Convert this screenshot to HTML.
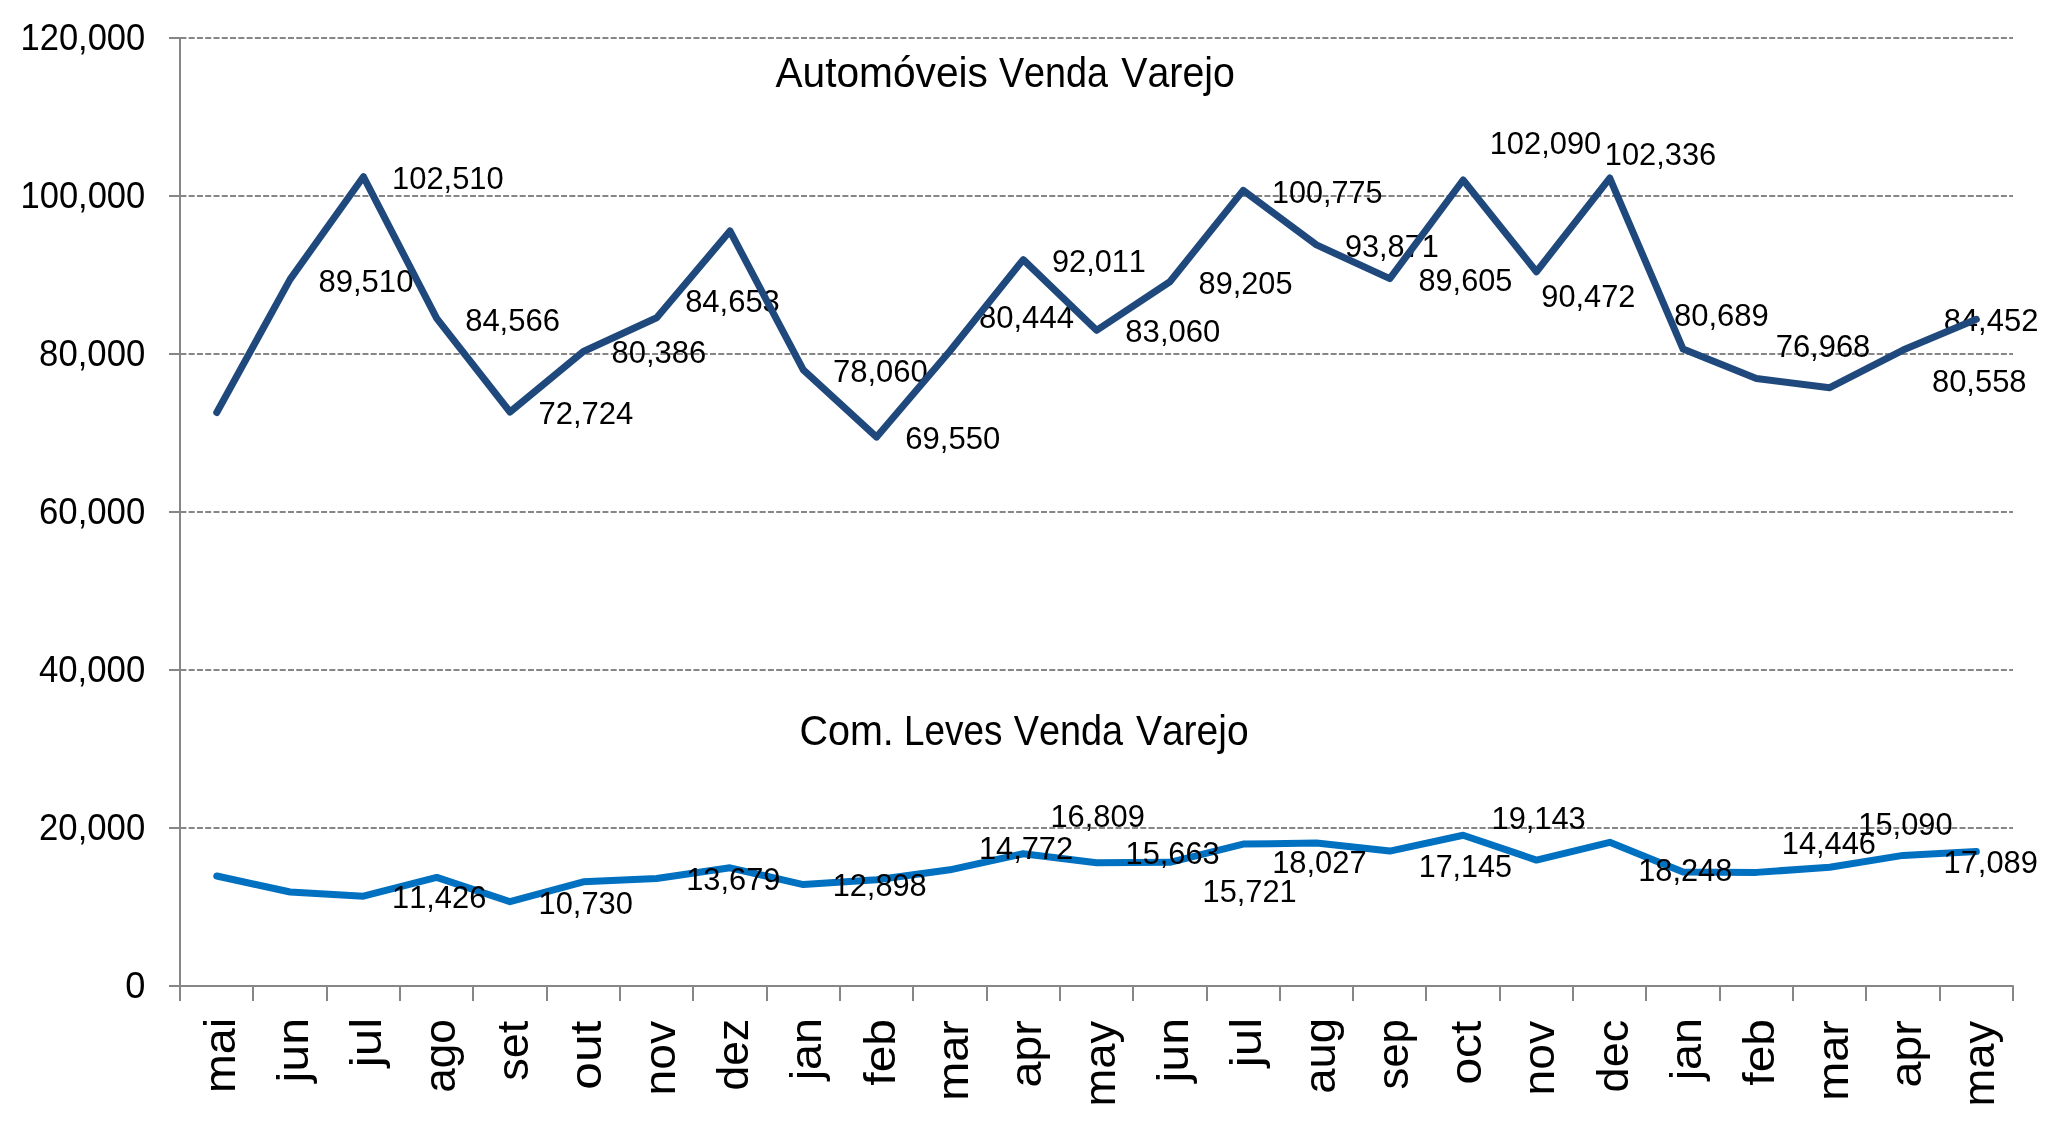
<!DOCTYPE html>
<html><head><meta charset="utf-8"><title>Automóveis Venda Varejo</title>
<style>html,body{margin:0;padding:0;background:#fff;} svg{display:block;will-change:transform;} text{font-kerning:none;}</style>
</head><body>
<svg width="2048" height="1126" viewBox="0 0 2048 1126">
<rect width="2048" height="1126" fill="#ffffff"/>
<line x1="180.4" y1="38" x2="2013" y2="38" stroke="#868686" stroke-width="2" stroke-dasharray="6 2.275"/>
<line x1="180.4" y1="196" x2="2013" y2="196" stroke="#868686" stroke-width="2" stroke-dasharray="6 2.275"/>
<line x1="180.4" y1="354" x2="2013" y2="354" stroke="#868686" stroke-width="2" stroke-dasharray="6 2.275"/>
<line x1="180.4" y1="512" x2="2013" y2="512" stroke="#868686" stroke-width="2" stroke-dasharray="6 2.275"/>
<line x1="180.4" y1="670" x2="2013" y2="670" stroke="#868686" stroke-width="2" stroke-dasharray="6 2.275"/>
<line x1="180.4" y1="828" x2="2013" y2="828" stroke="#868686" stroke-width="2" stroke-dasharray="6 2.275"/>
<line x1="169" y1="38" x2="181" y2="38" stroke="#868686" stroke-width="2"/>
<line x1="169" y1="196" x2="181" y2="196" stroke="#868686" stroke-width="2"/>
<line x1="169" y1="354" x2="181" y2="354" stroke="#868686" stroke-width="2"/>
<line x1="169" y1="512" x2="181" y2="512" stroke="#868686" stroke-width="2"/>
<line x1="169" y1="670" x2="181" y2="670" stroke="#868686" stroke-width="2"/>
<line x1="169" y1="828" x2="181" y2="828" stroke="#868686" stroke-width="2"/>
<line x1="169" y1="986" x2="181" y2="986" stroke="#868686" stroke-width="2"/>
<line x1="180" y1="37" x2="180" y2="1001" stroke="#868686" stroke-width="2"/>
<path d="M179 986 H2013 V1001" fill="none" stroke="#868686" stroke-width="2" stroke-linejoin="round"/>
<line x1="253" y1="986" x2="253" y2="1001" stroke="#868686" stroke-width="2"/>
<line x1="327" y1="986" x2="327" y2="1001" stroke="#868686" stroke-width="2"/>
<line x1="400" y1="986" x2="400" y2="1001" stroke="#868686" stroke-width="2"/>
<line x1="473" y1="986" x2="473" y2="1001" stroke="#868686" stroke-width="2"/>
<line x1="547" y1="986" x2="547" y2="1001" stroke="#868686" stroke-width="2"/>
<line x1="620" y1="986" x2="620" y2="1001" stroke="#868686" stroke-width="2"/>
<line x1="693" y1="986" x2="693" y2="1001" stroke="#868686" stroke-width="2"/>
<line x1="767" y1="986" x2="767" y2="1001" stroke="#868686" stroke-width="2"/>
<line x1="840" y1="986" x2="840" y2="1001" stroke="#868686" stroke-width="2"/>
<line x1="913" y1="986" x2="913" y2="1001" stroke="#868686" stroke-width="2"/>
<line x1="987" y1="986" x2="987" y2="1001" stroke="#868686" stroke-width="2"/>
<line x1="1060" y1="986" x2="1060" y2="1001" stroke="#868686" stroke-width="2"/>
<line x1="1133" y1="986" x2="1133" y2="1001" stroke="#868686" stroke-width="2"/>
<line x1="1207" y1="986" x2="1207" y2="1001" stroke="#868686" stroke-width="2"/>
<line x1="1280" y1="986" x2="1280" y2="1001" stroke="#868686" stroke-width="2"/>
<line x1="1353" y1="986" x2="1353" y2="1001" stroke="#868686" stroke-width="2"/>
<line x1="1426" y1="986" x2="1426" y2="1001" stroke="#868686" stroke-width="2"/>
<line x1="1500" y1="986" x2="1500" y2="1001" stroke="#868686" stroke-width="2"/>
<line x1="1573" y1="986" x2="1573" y2="1001" stroke="#868686" stroke-width="2"/>
<line x1="1646" y1="986" x2="1646" y2="1001" stroke="#868686" stroke-width="2"/>
<line x1="1720" y1="986" x2="1720" y2="1001" stroke="#868686" stroke-width="2"/>
<line x1="1793" y1="986" x2="1793" y2="1001" stroke="#868686" stroke-width="2"/>
<line x1="1866" y1="986" x2="1866" y2="1001" stroke="#868686" stroke-width="2"/>
<line x1="1940" y1="986" x2="1940" y2="1001" stroke="#868686" stroke-width="2"/>
<g style="font-family:'Liberation Sans',sans-serif" fill="#000">
<text x="20.50" y="49.50" font-size="36.3" textLength="124.75" lengthAdjust="spacingAndGlyphs">120,000</text>
<text x="20.50" y="207.50" font-size="36.3" textLength="124.75" lengthAdjust="spacingAndGlyphs">100,000</text>
<text x="39.12" y="365.50" font-size="36.3" textLength="106.14" lengthAdjust="spacingAndGlyphs">80,000</text>
<text x="39.05" y="523.50" font-size="36.3" textLength="106.21" lengthAdjust="spacingAndGlyphs">60,000</text>
<text x="38.95" y="681.50" font-size="36.3" textLength="106.30" lengthAdjust="spacingAndGlyphs">40,000</text>
<text x="39.06" y="839.50" font-size="36.3" textLength="106.19" lengthAdjust="spacingAndGlyphs">20,000</text>
<text x="125.19" y="997.50" font-size="36.3" textLength="20.12" lengthAdjust="spacingAndGlyphs">0</text>
<text x="775.52" y="87.00" font-size="42.3" textLength="212.35" lengthAdjust="spacingAndGlyphs">Automóveis</text>
<text x="998.93" y="87.00" font-size="42.3" textLength="109.17" lengthAdjust="spacingAndGlyphs">Venda</text>
<text x="1121.33" y="87.00" font-size="42.3" textLength="113.52" lengthAdjust="spacingAndGlyphs">Varejo</text>
<text x="799.50" y="745.30" font-size="42.3" textLength="94.31" lengthAdjust="spacingAndGlyphs">Com.</text>
<text x="903.98" y="745.30" font-size="42.3" textLength="98.36" lengthAdjust="spacingAndGlyphs">Leves</text>
<text x="1013.63" y="745.30" font-size="42.3" textLength="109.47" lengthAdjust="spacingAndGlyphs">Venda</text>
<text x="1135.93" y="745.30" font-size="42.3" textLength="112.71" lengthAdjust="spacingAndGlyphs">Varejo</text>
</g>
<g style="font-family:'Liberation Sans',sans-serif" fill="#000">
<text x="392.05" y="189.10" font-size="32.0" textLength="111.62" lengthAdjust="spacingAndGlyphs">102,510</text>
<text x="318.45" y="291.80" font-size="32.0" textLength="94.97" lengthAdjust="spacingAndGlyphs">89,510</text>
<text x="465.15" y="330.50" font-size="32.0" textLength="94.81" lengthAdjust="spacingAndGlyphs">84,566</text>
<text x="538.41" y="424.20" font-size="32.0" textLength="94.96" lengthAdjust="spacingAndGlyphs">72,724</text>
<text x="611.45" y="363.40" font-size="32.0" textLength="94.81" lengthAdjust="spacingAndGlyphs">80,386</text>
<text x="685.15" y="312.30" font-size="32.0" textLength="94.70" lengthAdjust="spacingAndGlyphs">84,653</text>
<text x="832.91" y="381.60" font-size="32.0" textLength="94.94" lengthAdjust="spacingAndGlyphs">78,060</text>
<text x="905.22" y="448.60" font-size="32.0" textLength="95.03" lengthAdjust="spacingAndGlyphs">69,550</text>
<text x="978.95" y="327.60" font-size="32.0" textLength="94.98" lengthAdjust="spacingAndGlyphs">80,444</text>
<text x="1052.06" y="272.20" font-size="32.0" textLength="93.88" lengthAdjust="spacingAndGlyphs">92,011</text>
<text x="1125.35" y="342.20" font-size="32.0" textLength="94.97" lengthAdjust="spacingAndGlyphs">83,060</text>
<text x="1198.57" y="293.70" font-size="32.0" textLength="93.90" lengthAdjust="spacingAndGlyphs">89,205</text>
<text x="1272.07" y="203.00" font-size="32.0" textLength="110.54" lengthAdjust="spacingAndGlyphs">100,775</text>
<text x="1344.96" y="257.30" font-size="32.0" textLength="93.88" lengthAdjust="spacingAndGlyphs">93,871</text>
<text x="1418.47" y="290.70" font-size="32.0" textLength="93.90" lengthAdjust="spacingAndGlyphs">89,605</text>
<text x="1489.65" y="154.30" font-size="32.0" textLength="111.62" lengthAdjust="spacingAndGlyphs">102,090</text>
<text x="1604.75" y="165.00" font-size="32.0" textLength="111.46" lengthAdjust="spacingAndGlyphs">102,336</text>
<text x="1541.36" y="307.10" font-size="32.0" textLength="94.01" lengthAdjust="spacingAndGlyphs">90,472</text>
<text x="1673.95" y="325.60" font-size="32.0" textLength="94.94" lengthAdjust="spacingAndGlyphs">80,689</text>
<text x="1775.71" y="357.30" font-size="32.0" textLength="94.59" lengthAdjust="spacingAndGlyphs">76,968</text>
<text x="1943.65" y="331.40" font-size="32.0" textLength="94.74" lengthAdjust="spacingAndGlyphs">84,452</text>
<text x="1931.96" y="392.00" font-size="32.0" textLength="94.61" lengthAdjust="spacingAndGlyphs">80,558</text>
</g>
<path d="M216.76 412.50 L290.07 279.37 L363.39 176.67 L436.71 318.43 L510.02 411.98 L583.34 351.45 L656.65 317.74 L729.97 231.00 L803.29 369.83 L876.60 437.05 L949.92 350.99 L1023.23 259.61 L1096.55 330.33 L1169.87 281.78 L1243.18 190.38 L1316.50 244.92 L1389.81 278.62 L1463.13 179.99 L1536.45 271.77 L1609.76 178.05 L1683.08 349.06 L1756.39 378.45 L1829.71 387.70 L1903.03 350.09 L1976.34 319.33" fill="none" stroke="#1F497D" stroke-width="7" stroke-linejoin="round" stroke-linecap="round"/>
<path d="M216.76 876.00 L290.07 892.00 L363.39 896.23 L436.71 877.40 L510.02 901.73 L583.34 881.80 L656.65 878.44 L729.97 867.80 L803.29 884.61 L876.60 879.70 L949.92 869.80 L1023.23 853.71 L1096.55 862.76 L1169.87 862.30 L1243.18 844.09 L1316.50 843.00 L1389.81 851.05 L1463.13 835.27 L1536.45 860.10 L1609.76 842.34 L1683.08 872.10 L1756.39 872.38 L1829.71 867.29 L1903.03 855.40 L1976.34 851.50" fill="none" stroke="#0070C0" stroke-width="7" stroke-linejoin="round" stroke-linecap="round"/>
<g style="font-family:'Liberation Sans',sans-serif" fill="#000">
<text x="392.05" y="907.90" font-size="32.0" textLength="94.23" lengthAdjust="spacingAndGlyphs">11,426</text>
<text x="538.55" y="913.60" font-size="32.0" textLength="94.38" lengthAdjust="spacingAndGlyphs">10,730</text>
<text x="686.15" y="889.80" font-size="32.0" textLength="94.36" lengthAdjust="spacingAndGlyphs">13,679</text>
<text x="832.66" y="895.90" font-size="32.0" textLength="94.02" lengthAdjust="spacingAndGlyphs">12,898</text>
<text x="978.96" y="858.90" font-size="32.0" textLength="94.16" lengthAdjust="spacingAndGlyphs">14,772</text>
<text x="1050.45" y="826.80" font-size="32.0" textLength="94.36" lengthAdjust="spacingAndGlyphs">16,809</text>
<text x="1125.56" y="863.90" font-size="32.0" textLength="94.11" lengthAdjust="spacingAndGlyphs">15,663</text>
<text x="1202.56" y="901.60" font-size="32.0" textLength="94.02" lengthAdjust="spacingAndGlyphs">15,721</text>
<text x="1272.15" y="873.20" font-size="32.0" textLength="94.52" lengthAdjust="spacingAndGlyphs">18,027</text>
<text x="1418.68" y="877.40" font-size="32.0" textLength="93.30" lengthAdjust="spacingAndGlyphs">17,145</text>
<text x="1491.56" y="829.20" font-size="32.0" textLength="94.11" lengthAdjust="spacingAndGlyphs">19,143</text>
<text x="1638.26" y="881.40" font-size="32.0" textLength="94.02" lengthAdjust="spacingAndGlyphs">18,248</text>
<text x="1781.75" y="853.50" font-size="32.0" textLength="94.23" lengthAdjust="spacingAndGlyphs">14,446</text>
<text x="1858.25" y="835.10" font-size="32.0" textLength="94.38" lengthAdjust="spacingAndGlyphs">15,090</text>
<text x="1943.55" y="873.30" font-size="32.0" textLength="94.36" lengthAdjust="spacingAndGlyphs">17,089</text>
</g>
<g style="font-family:'Liberation Sans',sans-serif" fill="#000">
<text transform="translate(234.76 1090.02) rotate(-90)" x="-3.10" y="0" font-size="43.8" textLength="75.27" lengthAdjust="spacingAndGlyphs">mai</text>
<text transform="translate(308.07 1083.79) rotate(-90)" x="1.18" y="0" font-size="43.8" textLength="64.76" lengthAdjust="spacingAndGlyphs">jun</text>
<text transform="translate(381.39 1068.46) rotate(-90)" x="1.21" y="0" font-size="43.8" textLength="49.57" lengthAdjust="spacingAndGlyphs">jul</text>
<text transform="translate(454.71 1090.97) rotate(-90)" x="-1.88" y="0" font-size="43.8" textLength="73.70" lengthAdjust="spacingAndGlyphs">ago</text>
<text transform="translate(528.02 1079.59) rotate(-90)" x="-1.26" y="0" font-size="43.8" textLength="60.18" lengthAdjust="spacingAndGlyphs">set</text>
<text transform="translate(601.34 1087.67) rotate(-90)" x="-2.09" y="0" font-size="43.8" textLength="69.13" lengthAdjust="spacingAndGlyphs">out</text>
<text transform="translate(674.65 1092.34) rotate(-90)" x="-3.07" y="0" font-size="43.8" textLength="74.57" lengthAdjust="spacingAndGlyphs">nov</text>
<text transform="translate(747.97 1088.63) rotate(-90)" x="-1.87" y="0" font-size="43.8" textLength="71.71" lengthAdjust="spacingAndGlyphs">dez</text>
<text transform="translate(821.29 1081.47) rotate(-90)" x="1.14" y="0" font-size="43.8" textLength="62.37" lengthAdjust="spacingAndGlyphs">jan</text>
<text transform="translate(894.60 1085.01) rotate(-90)" x="-0.68" y="0" font-size="43.8" textLength="66.71" lengthAdjust="spacingAndGlyphs">feb</text>
<text transform="translate(967.92 1097.76) rotate(-90)" x="-3.11" y="0" font-size="43.8" textLength="80.64" lengthAdjust="spacingAndGlyphs">mar</text>
<text transform="translate(1041.23 1085.62) rotate(-90)" x="-1.98" y="0" font-size="43.8" textLength="67.38" lengthAdjust="spacingAndGlyphs">apr</text>
<text transform="translate(1114.55 1103.59) rotate(-90)" x="-3.01" y="0" font-size="43.8" textLength="85.69" lengthAdjust="spacingAndGlyphs">may</text>
<text transform="translate(1187.87 1083.79) rotate(-90)" x="1.18" y="0" font-size="43.8" textLength="64.76" lengthAdjust="spacingAndGlyphs">jun</text>
<text transform="translate(1261.18 1068.46) rotate(-90)" x="1.21" y="0" font-size="43.8" textLength="49.57" lengthAdjust="spacingAndGlyphs">jul</text>
<text transform="translate(1334.50 1091.83) rotate(-90)" x="-1.93" y="0" font-size="43.8" textLength="75.68" lengthAdjust="spacingAndGlyphs">aug</text>
<text transform="translate(1407.81 1088.19) rotate(-90)" x="-1.21" y="0" font-size="43.8" textLength="70.23" lengthAdjust="spacingAndGlyphs">sep</text>
<text transform="translate(1481.13 1082.55) rotate(-90)" x="-2.01" y="0" font-size="43.8" textLength="63.91" lengthAdjust="spacingAndGlyphs">oct</text>
<text transform="translate(1554.45 1092.34) rotate(-90)" x="-3.07" y="0" font-size="43.8" textLength="74.57" lengthAdjust="spacingAndGlyphs">nov</text>
<text transform="translate(1627.76 1090.51) rotate(-90)" x="-1.89" y="0" font-size="43.8" textLength="72.58" lengthAdjust="spacingAndGlyphs">dec</text>
<text transform="translate(1701.08 1081.47) rotate(-90)" x="1.14" y="0" font-size="43.8" textLength="62.37" lengthAdjust="spacingAndGlyphs">jan</text>
<text transform="translate(1774.39 1085.01) rotate(-90)" x="-0.68" y="0" font-size="43.8" textLength="66.71" lengthAdjust="spacingAndGlyphs">feb</text>
<text transform="translate(1847.71 1097.76) rotate(-90)" x="-3.11" y="0" font-size="43.8" textLength="80.64" lengthAdjust="spacingAndGlyphs">mar</text>
<text transform="translate(1921.03 1085.62) rotate(-90)" x="-1.98" y="0" font-size="43.8" textLength="67.38" lengthAdjust="spacingAndGlyphs">apr</text>
<text transform="translate(1994.34 1103.59) rotate(-90)" x="-3.01" y="0" font-size="43.8" textLength="85.69" lengthAdjust="spacingAndGlyphs">may</text>
</g>
</svg>
</body></html>
